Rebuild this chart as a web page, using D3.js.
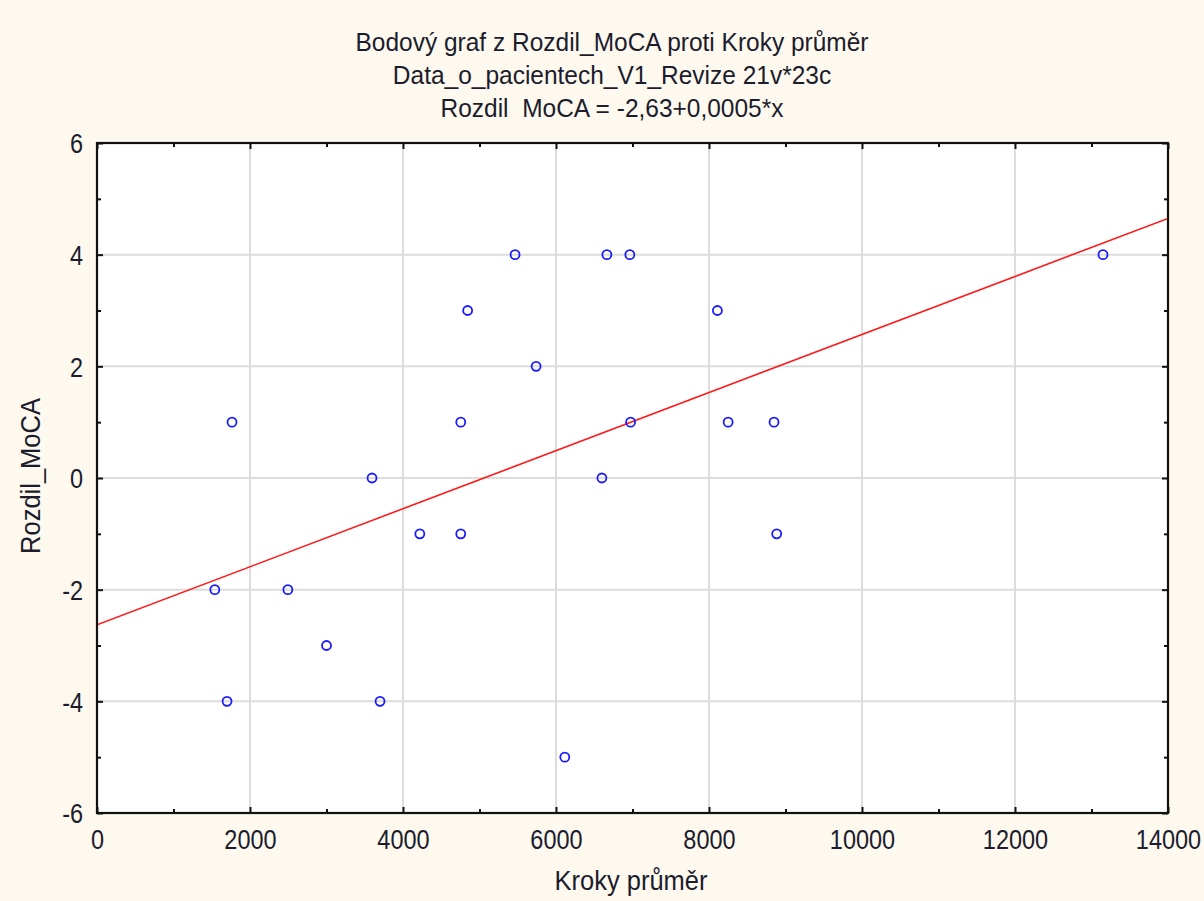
<!DOCTYPE html>
<html><head><meta charset="utf-8">
<script src="https://cdn.jsdelivr.net/npm/d3@7"></script>
<style>
html,body{margin:0;padding:0;background:#fdf9ef;}
svg{display:block;}
text{font-family:"Liberation Sans",Arial,sans-serif;fill:#1c1c2c;white-space:pre;}
</style></head>
<body>
<svg id="c" width="1204" height="901"></svg>
<script>
const titleLines = ["Bodový graf z Rozdil_MoCA proti Kroky průměr","Data_o_pacientech_V1_Revize 21v*23c","Rozdil  MoCA = -2,63+0,0005*x"];
const xLabel = "Kroky průměr";
const yLabel = "Rozdil_MoCA";
const krokyPrumer = [1765,1540,1700,2495,3000,3595,3700,4220,4755,4755,4845,5465,5740,6115,6600,6665,6965,6975,8110,8250,8850,8885,13150];
const rozdilMoCA  = [1,-2,-4,-2,-3,0,-4,-1,1,-1,3,4,2,-5,0,4,4,1,3,1,1,-1,4];
const xTicks = [0,2000,4000,6000,8000,10000,12000,14000];
const yTicks = [-6,-4,-2,0,2,4,6];
const fitIntercept = -2.63, fitSlope = 0.00052;

const svg = d3.select("#c");
const L=97, R=1168, T=143, B=813;
const x = d3.scaleLinear().domain([0,14000]).range([L,R]);
const y = d3.scaleLinear().domain([-6,6]).range([B,T]);

svg.append("rect").attr("x",L).attr("y",T).attr("width",R-L).attr("height",B-T).attr("fill","#fff");

// grid
svg.append("g").selectAll("line").data(xTicks.slice(1,-1)).join("line")
  .attr("x1",d=>x(d)).attr("x2",d=>x(d)).attr("y1",T).attr("y2",B)
  .attr("stroke","#dcdcdc").attr("stroke-width",2);
svg.append("g").selectAll("line").data(yTicks.slice(1,-1)).join("line")
  .attr("y1",d=>y(d)).attr("y2",d=>y(d)).attr("x1",L).attr("x2",R)
  .attr("stroke","#dcdcdc").attr("stroke-width",2);

svg.append("clipPath").attr("id","pc").append("rect").attr("x",L).attr("y",T).attr("width",R-L).attr("height",B-T);

// fit line
const fx = [0,14000];
svg.append("line").attr("clip-path","url(#pc)")
  .attr("x1",x(fx[0])).attr("y1",y(fitIntercept+fitSlope*fx[0]))
  .attr("x2",x(fx[1])).attr("y2",y(fitIntercept+fitSlope*fx[1]))
  .attr("stroke","#ff1a1a").attr("stroke-width",1.6);

// points
svg.append("g").selectAll("circle").data(krokyPrumer.map((v,i)=>[v,rozdilMoCA[i]])).join("circle")
  .attr("cx",d=>x(d[0])).attr("cy",d=>y(d[1])).attr("r",4.5)
  .attr("fill","none").attr("stroke","#1a1aff").attr("stroke-width",1.8);

// axes with inward ticks
const xMinor = d3.range(1000,14000,2000);
const yMinor = d3.range(-5,6,2);
const axB = d3.axisBottom(x).tickValues(xTicks).tickSize(-6).tickPadding(14).tickFormat(d=>String(d));
const axL = d3.axisLeft(y).tickValues(yTicks).tickSize(-6).tickPadding(14).tickFormat(d=>String(d));
const gB = svg.append("g").attr("transform",`translate(0,${B})`).call(axB);
const gL = svg.append("g").attr("transform",`translate(${L},0)`).call(axL);
const gBm = svg.append("g").attr("transform",`translate(0,${B})`).call(d3.axisBottom(x).tickValues(xMinor).tickSize(-4).tickFormat(""));
const gLm = svg.append("g").attr("transform",`translate(${L},0)`).call(d3.axisLeft(y).tickValues(yMinor).tickSize(-4).tickFormat(""));
const gT = svg.append("g").attr("transform",`translate(0,${T})`).call(d3.axisTop(x).tickValues(xTicks).tickSize(-6).tickFormat(""));
const gTm = svg.append("g").attr("transform",`translate(0,${T})`).call(d3.axisTop(x).tickValues(xMinor).tickSize(-4).tickFormat(""));
const gR = svg.append("g").attr("transform",`translate(${R},0)`).call(d3.axisRight(y).tickValues(yTicks).tickSize(-6).tickFormat(""));
const gRm = svg.append("g").attr("transform",`translate(${R},0)`).call(d3.axisRight(y).tickValues(yMinor).tickSize(-4).tickFormat(""));
[gB,gL,gBm,gLm,gT,gTm,gR,gRm].forEach(g=>{
  g.select(".domain").remove();
  g.selectAll(".tick line").attr("stroke","#111").attr("stroke-width",2);
});
[gB,gL].forEach(g=>g.selectAll(".tick text").style("font-size","23.5px").attr("fill","#1c1c2c")
  .style("font-family","Liberation Sans, Arial, sans-serif").attr("transform","scale(1,1.18)"));
gL.selectAll(".tick text").attr("dy","0.36em");

// frame
svg.append("rect").attr("x",L).attr("y",T).attr("width",R-L).attr("height",B-T)
  .attr("fill","none").attr("stroke","#111").attr("stroke-width",2.2);

// titles
svg.append("g").selectAll("text").data(titleLines).join("text")
  .attr("transform",(d,i)=>`translate(612,${51+i*33}) scale(1,1.08)`).attr("text-anchor","middle")
  .style("font-size","24.5px").text(d=>d);

svg.append("text").attr("transform","translate(631,890) scale(1,1.05)").attr("text-anchor","middle").style("font-size","25.5px").text(xLabel);
svg.append("text").attr("transform","translate(40,476) rotate(-90) scale(1,1.05)").attr("text-anchor","middle").style("font-size","25.5px").text(yLabel);
</script>
</body></html>
